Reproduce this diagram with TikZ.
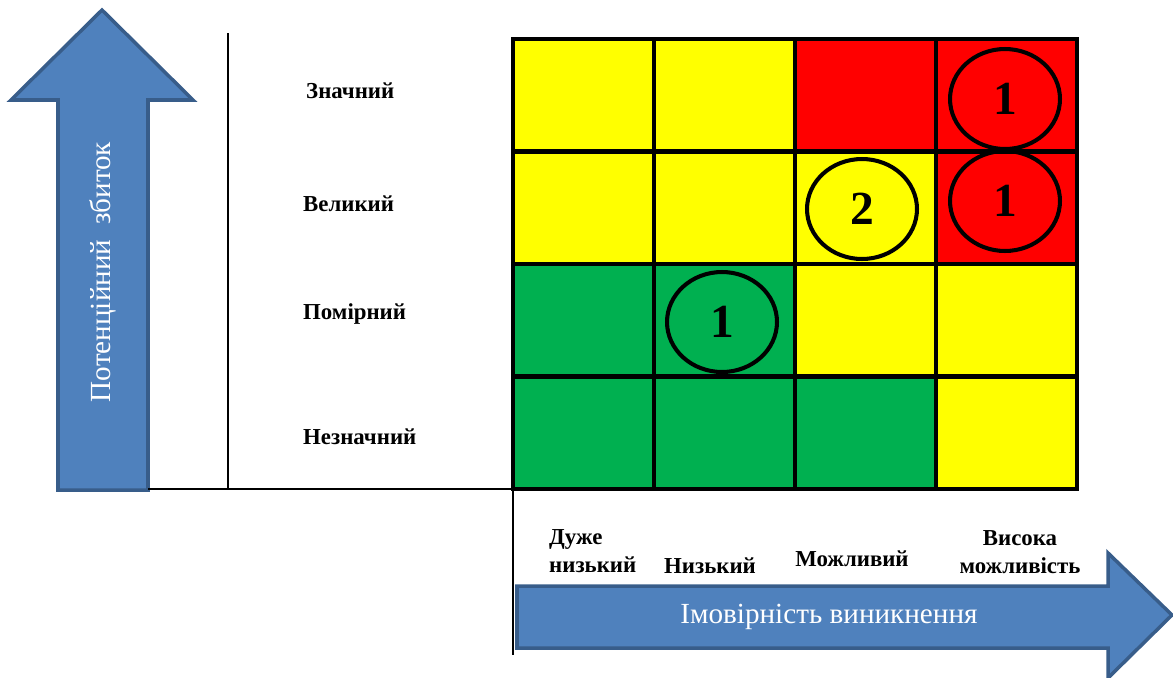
\documentclass[tikz,border=0pt]{standalone}
\usepackage{fontspec}
\setmainfont{Liberation Serif}
\usetikzlibrary{shapes.geometric}
\definecolor{yel}{HTML}{FFFF00}
\definecolor{red}{HTML}{FF0000}
\definecolor{grn}{HTML}{00B050}
\definecolor{arrfill}{HTML}{4F81BD}
\definecolor{arrline}{HTML}{385D8A}
\begin{document}
\begin{tikzpicture}[x=0.02cm, y=-0.02cm,
    every node/.style={font=\bfseries\fontsize{13}{16}\selectfont},
    risk/.style={draw, ellipse, line width=2.3pt, minimum width=2.2cm, minimum height=2cm,
      font=\bfseries\fontsize{27}{30}\selectfont},
    arrowbody/.style={fill=arrfill, draw=arrline, line width=2pt},
    arrowtext/.style={text=white, font=\fontsize{16.6}{18}\selectfont}]
    \useasboundingbox (0,0) rectangle (1173,677);
    % arrows
    \draw[arrowbody] (58,490) -- (58,100) -- (11,100) -- (102,10) -- (193,100) -- (148,100) -- (148,490) -- cycle;
    \draw[arrowbody] (517,586) -- (1108,586) -- (1108,553) -- (1172,615) -- (1108,678) -- (1108,648) -- (517,648) -- cycle;
    \node[arrowtext, rotate=90] (damage) at (103,272) {Потенційний\ \ збиток};
    \node[arrowtext] (prob) at (829,617) {Імовірність виникнення};
    % axis lines
    \draw[line width=0.7pt] (228,33) -- (228,489);
    \draw[line width=0.7pt] (148,489) -- (513,489) -- (513,655);
    % matrix cells
    \foreach \row [count=\r from 0] in {{yel,yel,red,red},{yel,yel,yel,red},{grn,grn,yel,yel},{grn,grn,grn,yel}}
      \foreach \col [count=\c from 0] in \row
        \fill[\col] (513+\c*141, 39+\r*112.5) rectangle ++(141,112.5);
    \foreach \i in {0,...,4} {
      \draw[line width=2.8pt, line cap=rect] (513+\i*141,39) -- (513+\i*141,489);
      \draw[line width=2.8pt, line cap=rect] (513,39+\i*112.5) -- (1077,39+\i*112.5);
    }
    % counts
    \node[risk] (r14) at (1005,99) {1};
    \node[risk] (r24) at (1005,201) {1};
    \node[risk] (r23) at (862,209) {2};
    \node[risk] (r32) at (722,322) {1};
    % row labels
    \node[anchor=west] (lzn) at (300,91) {Значний};
    \node[anchor=west] (lvel) at (297,204) {Великий};
    \node[anchor=west] (lpom) at (297,314) {Помірний};
    \node[anchor=west] (lnez) at (297,437) {Незначний};
    % column labels
    \node[anchor=west, align=left] (cdn) at (543,551) {Дуже\\низький};
    \node (cn) at (710,566) {Низький};
    \node (cm) at (852,559) {Можливий};
    \node[align=center] (cv) at (1020,552) {Висока\\можливість};
\end{tikzpicture}
\end{document}
